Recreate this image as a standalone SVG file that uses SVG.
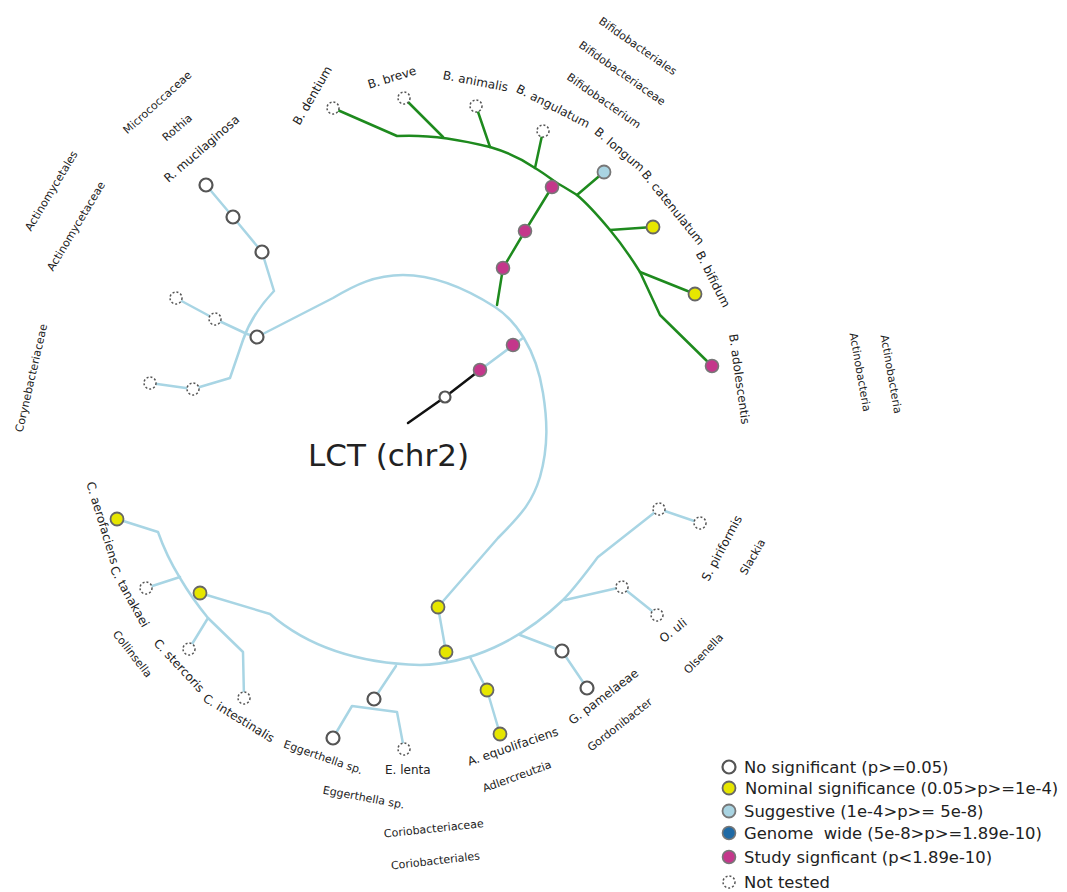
<svg xmlns="http://www.w3.org/2000/svg" width="1067" height="892" viewBox="0 0 1067 892">
<style>
.lb{fill:none;stroke:#a8d5e4;stroke-width:2.5;stroke-linejoin:round;stroke-linecap:round}
.gr{fill:none;stroke:#1e8a1e;stroke-width:2.5;stroke-linejoin:round;stroke-linecap:round}
.bk{fill:none;stroke:#111;stroke-width:2.5;stroke-linecap:round}
.nw{fill:#fff;stroke:#555;stroke-width:2.2}
.ny{fill:#e6e600;stroke:#666;stroke-width:1.8}
.nm{fill:#c4378b;stroke:#777;stroke-width:1.6}
.nl{fill:#a9d4e2;stroke:#777;stroke-width:1.8}
.ng{fill:#1f6aa5;stroke:#777;stroke-width:1.6}
.nd{fill:#fff;stroke:#555;stroke-width:1.5;stroke-dasharray:2 2}
text{font-family:"DejaVu Sans","Verdana",sans-serif;fill:#222}
.s{font-size:12px;dominant-baseline:central}
.g{font-size:11px;dominant-baseline:central}
.lg{font-size:16.4px}
</style>
<rect width="1067" height="892" fill="#fff"/>
<g id="connectors">
  <path class="lb" d="M257,337 L333,298 C355,285 375,275 403,275 C432,275 462,286 495,307 C515,320 536,348 543,393 C547,418 549,445 540,477 C533,500 524,512 498,538 L438,607 L446,652 L447,660"/>
  <path class="lb" d="M480,370 L523,338"/>
  <path class="bk" d="M408,423 L445,397 L480,370"/>
  <path class="gr" d="M497,305 L503,268 L525,231 L552,187 L557,183"/>
  <path class="gr" d="M333,108 L397,136 C430,134 462,140 490,147 C507,152 522,159 535,168 C545,174 551,179 557,183 C566,188 572,192 577,195 C590,206 600,218 610,230 C620,242 630,256 640,272 L660,315 L712,366"/>
  <path class="gr" d="M443,137 L404,98 M490,147 L476,106 M535,168 L543,131 M577,195 L604,172 M610,230 L653,227 M640,272 L695,294"/>
  <path class="lb" d="M206,185 L233,217 L262,252 L274,291 C258,308 248,325 243,340 L230,378 L193,389 L150,383"/>
  <path class="lb" d="M176,298 L215,319 L247,334 L257,337"/>
  <path class="lb" d="M117,519 L158,532 C165,552 172,565 180,578 C190,595 199,607 208,618 L243,652 L244,698"/>
  <path class="lb" d="M146,588 L180,577 M189,649 L208,618"/>
  <path class="lb" d="M200,593 L270,614 C300,640 345,663 420,665 C470,664 520,641 563,600 C575,588 588,570 598,557 L659,509 L700,523"/>
  <path class="lb" d="M565,600 L622,587 L657,615 M520,635 L562,651 L587,688 M470,657 L487,690 L500,734"/>
  <path class="lb" d="M396,666 L374,699 M333,738 L352,706 L397,712 L404,749"/>
</g>
<g id="nodes">
  <g id="root"><circle class="nw" cx="445" cy="397" r="5.5"/></g>
  <g id="n-lct1"><circle class="nm" cx="480" cy="370" r="6.5"/></g>
  <g id="n-lct2"><circle class="nm" cx="513" cy="345" r="6.5"/></g>
  <g id="n-act"><circle class="nw" cx="257" cy="337" r="6.5"/></g>
  <g id="n-micro"><circle class="nw" cx="262" cy="252" r="6.5"/></g>
  <g id="n-rothia"><circle class="nw" cx="233" cy="217" r="6.5"/></g>
  <g id="n-rmuc"><circle class="nw" cx="206" cy="185" r="6.5"/></g>
  <g id="n-actm1"><circle class="nd" cx="215" cy="319" r="6"/></g>
  <g id="n-actm2"><circle class="nd" cx="176" cy="298" r="6"/></g>
  <g id="n-cory1"><circle class="nd" cx="193" cy="389" r="6"/></g>
  <g id="n-cory2"><circle class="nd" cx="150" cy="383" r="6"/></g>
  <g id="n-bif1"><circle class="nm" cx="503" cy="268" r="6.5"/></g>
  <g id="n-bif2"><circle class="nm" cx="525" cy="231" r="6.5"/></g>
  <g id="n-bif3"><circle class="nm" cx="552" cy="187" r="6.5"/></g>
  <g id="n-bdentium"><circle class="nd" cx="333" cy="108" r="6"/></g>
  <g id="n-bbreve"><circle class="nd" cx="404" cy="98" r="6"/></g>
  <g id="n-banimalis"><circle class="nd" cx="476" cy="106" r="6"/></g>
  <g id="n-bangulatum"><circle class="nd" cx="543" cy="131" r="6"/></g>
  <g id="n-blongum"><circle class="nl" cx="604" cy="172" r="6.5"/></g>
  <g id="n-bcatenulatum"><circle class="ny" cx="653" cy="227" r="6.5"/></g>
  <g id="n-bbifidum"><circle class="ny" cx="695" cy="294" r="6.5"/></g>
  <g id="n-badolescentis"><circle class="nm" cx="712" cy="366" r="6.5"/></g>
  <g id="n-corio1"><circle class="ny" cx="438" cy="607" r="6.5"/></g>
  <g id="n-corio2"><circle class="ny" cx="446" cy="652" r="6.5"/></g>
  <g id="n-collinsella"><circle class="ny" cx="200" cy="593" r="6.5"/></g>
  <g id="n-caerofaciens"><circle class="ny" cx="117" cy="519" r="6.5"/></g>
  <g id="n-ctanakaei"><circle class="nd" cx="146" cy="588" r="6"/></g>
  <g id="n-cstercoris"><circle class="nd" cx="189" cy="649" r="6"/></g>
  <g id="n-cintestinalis"><circle class="nd" cx="244" cy="698" r="6"/></g>
  <g id="n-egg"><circle class="nw" cx="374" cy="699" r="6.5"/></g>
  <g id="n-eggsp"><circle class="nw" cx="333" cy="738" r="6.5"/></g>
  <g id="n-elenta"><circle class="nd" cx="404" cy="749" r="6"/></g>
  <g id="n-adler"><circle class="ny" cx="487" cy="690" r="6.5"/></g>
  <g id="n-aequol"><circle class="ny" cx="500" cy="734" r="6.5"/></g>
  <g id="n-gordon"><circle class="nw" cx="562" cy="651" r="6.5"/></g>
  <g id="n-gpamel"><circle class="nw" cx="587" cy="688" r="6.5"/></g>
  <g id="n-olsen"><circle class="nd" cx="622" cy="587" r="6"/></g>
  <g id="n-ouli"><circle class="nd" cx="657" cy="615" r="6"/></g>
  <g id="n-slackia"><circle class="nd" cx="659" cy="509" r="6"/></g>
  <g id="n-spiri"><circle class="nd" cx="700" cy="523" r="6"/></g>
</g>
<g id="labels">
  <text x="308" y="466" font-size="31">LCT (chr2)</text>
  <text class="s" transform="translate(296,124) rotate(-60)">B. dentium</text>
  <text class="s" transform="translate(368,85) rotate(-17)">B. breve</text>
  <text class="s" transform="translate(443,75) rotate(11)">B. animalis</text>
  <text class="s" transform="translate(517,88) rotate(27)">B. angulatum</text>
  <text class="s" transform="translate(596,130) rotate(40)">B. longum</text>
  <text class="s" transform="translate(644,172) rotate(51)">B. catenulatum</text>
  <text class="s" transform="translate(699,252) rotate(63)">B. bifidum</text>
  <text class="s" transform="translate(733,334) rotate(82)">B. adolescentis</text>
  <text class="g" transform="translate(600,20) rotate(35)">Bifidobacteriales</text>
  <text class="g" transform="translate(580,44) rotate(35)">Bifidobacteriaceae</text>
  <text class="g" transform="translate(568,76) rotate(35)">Bifidobacterium</text>
  <text class="g" transform="translate(853,333) rotate(80)">Actinobacteria</text>
  <text class="g" transform="translate(884,335) rotate(80)">Actinobacteria</text>
  <text class="g" transform="translate(125,132) rotate(-42)">Micrococcaceae</text>
  <text class="g" transform="translate(164,139) rotate(-40)">Rothia</text>
  <text class="s" transform="translate(166,180) rotate(-41)">R. mucilaginosa</text>
  <text class="g" transform="translate(28,230) rotate(-59)">Actinomycetales</text>
  <text class="g" transform="translate(50,270) rotate(-59)">Actinomycetaceae</text>
  <text class="g" transform="translate(19,432) rotate(-77)">Corynebacteriaceae</text>
  <text class="s" transform="translate(90,482) rotate(73)">C. aerofaciens</text>
  <text class="s" transform="translate(113,567) rotate(61)">C. tanakaei</text>
  <text class="g" transform="translate(115,632) rotate(52)">Collinsella</text>
  <text class="s" transform="translate(156,641) rotate(47)">C. stercoris</text>
  <text class="s" transform="translate(204,697) rotate(31.5)">C. intestinalis</text>
  <text class="g" transform="translate(284,744) rotate(19)">Eggerthella sp.</text>
  <text class="s" x="385" y="770">E. lenta</text>
  <text class="s" transform="translate(468,762) rotate(-19)">A. equolifaciens</text>
  <text class="s" transform="translate(570,722) rotate(-37)">G. pamelaeae</text>
  <text class="g" transform="translate(589,749) rotate(-38)">Gordonibacter</text>
  <text class="g" transform="translate(323,790) rotate(10.6)">Eggerthella sp.</text>
  <text class="g" transform="translate(483,789) rotate(-20)">Adlercreutzia</text>
  <text class="g" transform="translate(384,834) rotate(-6)">Coriobacteriaceae</text>
  <text class="g" transform="translate(391,866) rotate(-6.5)">Coriobacteriales</text>
  <text class="s" transform="translate(661,640) rotate(-38)">O. uli</text>
  <text class="g" transform="translate(686,672) rotate(-46)">Olsenella</text>
  <text class="s" transform="translate(705,580) rotate(-62)">S. piriformis</text>
  <text class="g" transform="translate(743,574) rotate(-60)">Slackia</text>
</g>
<g id="legend">
  <circle class="nw" cx="729" cy="767" r="6.5"/>
  <text class="lg" x="744" y="773">No significant (p&gt;=0.05)</text>
  <circle class="ny" cx="729" cy="788" r="6.5"/>
  <text class="lg" x="745" y="794">Nominal significance (0.05&gt;p&gt;=1e-4)</text>
  <circle class="nl" cx="729" cy="811" r="6.5"/>
  <text class="lg" x="744" y="817">Suggestive (1e-4&gt;p&gt;= 5e-8)</text>
  <circle class="ng" cx="729" cy="833" r="6.5"/>
  <text class="lg" x="744" y="839" xml:space="preserve">Genome  wide (5e-8&gt;p&gt;=1.89e-10)</text>
  <circle class="nm" cx="729" cy="857" r="6.5"/>
  <text class="lg" x="744" y="863">Study signficant (p&lt;1.89e-10)</text>
  <circle class="nd" cx="729" cy="882" r="6"/>
  <text class="lg" x="744" y="888">Not tested</text>
</g>
</svg>
